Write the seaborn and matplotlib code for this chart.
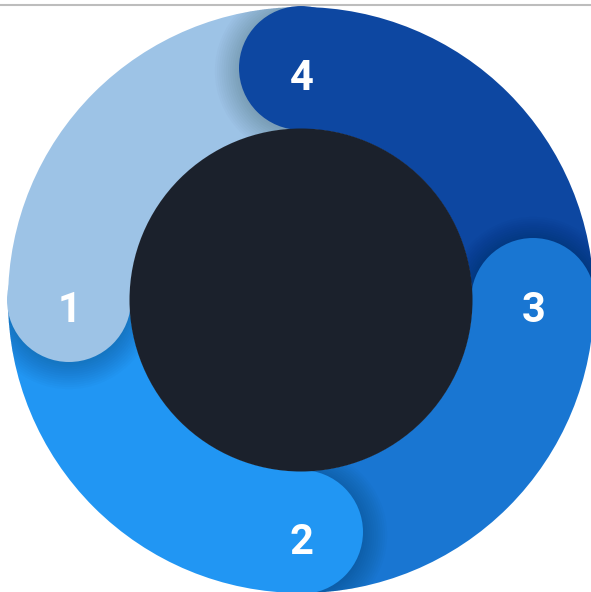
import numpy as np
import matplotlib
matplotlib.use("Agg")
import matplotlib.pyplot as plt
from matplotlib.patches import Circle
import seaborn as sns

# Segment data (clockwise from the top)
labels = ["4", "3", "2", "1"]
shares = [25, 25, 25, 25]
colors = ["#0D47A1", "#1976D2", "#2196F3", "#9DC3E6"]
center_color = "#1B212C"

sns.set_theme(style="white")
plt.rcParams["font.family"] = ["Roboto", "DejaVu Sans"]

fig = plt.figure(figsize=(5.91, 5.92), dpi=100)
ax = fig.add_axes([0, 0, 1, 1])

R_out = 293
width = 122
R_mid = R_out - width / 2
cap_r = width / 2 + 1

wedges, _ = ax.pie(shares, colors=colors, startangle=90, counterclock=False,
                   radius=R_out, wedgeprops=dict(width=width, linewidth=0))

# start angle of every segment, going clockwise
starts = 90 - np.cumsum([0] + shares[:-1]) * 3.6

for i, (lab, col, a) in enumerate(zip(labels, colors, starts)):
    prev = wedges[i - 1]
    cx = R_mid * np.cos(np.radians(a))
    cy = R_mid * np.sin(np.radians(a))
    # soft shadow of the rounded cap onto the previous segment
    for k in range(12):
        sh = Circle((cx, cy - 3), cap_r + k * 2.2, color="black",
                    alpha=0.014, lw=0, zorder=2)
        ax.add_patch(sh)
        sh.set_clip_path(prev)
    ax.add_patch(Circle((cx, cy), cap_r, color=col, lw=0, zorder=3))
    ax.text(cx + 1, cy - 22, lab, color="white", fontsize=30,
            fontweight="bold", ha="center", va="baseline", zorder=5)

ax.add_patch(Circle((0, 0), R_out - width + 0.5, color=center_color, lw=0, zorder=4))

ax.axhline(295.5, color="#bdbdbd", lw=1.5, zorder=6)

ax.set_xlim(-301, 290)
ax.set_ylim(-292, 300)
ax.set_aspect("equal")
ax.axis("off")

fig.savefig("out.png", dpi=100)
